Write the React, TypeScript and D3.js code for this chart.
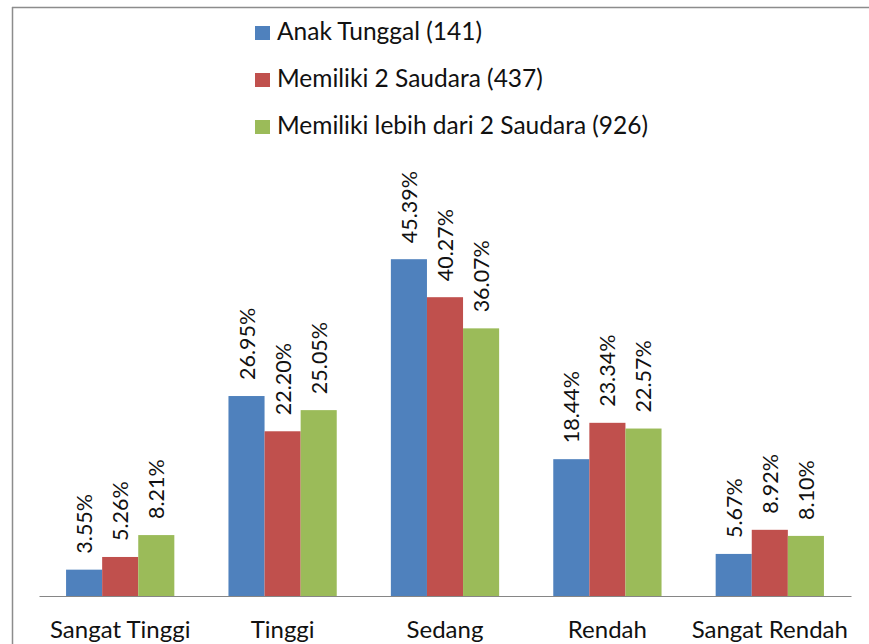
import React, { useEffect, useRef } from "react";
import * as d3 from "d3";

const categories = ["Sangat Tinggi", "Tinggi", "Sedang", "Rendah", "Sangat Rendah"];
const seriesNames = ["Anak Tunggal (141)", "Memiliki 2 Saudara (437)", "Memiliki lebih dari 2 Saudara (926)"];
const anakTunggal = [3.55, 26.95, 45.39, 18.44, 5.67];
const duaSaudara = [5.26, 22.2, 40.27, 23.34, 8.92];
const lebihDua = [8.21, 25.05, 36.07, 22.57, 8.1];
const colors = ["#4F81BD", "#C0504D", "#9BBB59"];

const FONT = "Lato, 'Open Sans', sans-serif";

const App = () => {
    const ref = useRef<SVGSVGElement | null>(null);

    useEffect(() => {
        const width = 869, height = 644;
        const svg = d3.select(ref.current)
            .attr("width", width)
            .attr("height", height);
        svg.selectAll("*").remove();

        const series = [anakTunggal, duaSaudara, lebihDua];
        const baseY = 596;

        // frame lines
        svg.append("line").attr("x1", 12).attr("x2", width).attr("y1", 7.5).attr("y2", 7.5)
            .attr("stroke", "#8c8c8c").attr("stroke-width", 1.5);
        svg.append("line").attr("x1", 12.5).attr("x2", 12.5).attr("y1", 7).attr("y2", height)
            .attr("stroke", "#8c8c8c").attr("stroke-width", 1.5);

        const x0 = d3.scaleBand().domain(categories).range([39, 851]).paddingInner(0).paddingOuter(0);
        const x1 = d3.scaleBand().domain(["0", "1", "2"]).range([0, x0.bandwidth()]).paddingInner(0).paddingOuter(0.75);
        const y = d3.scaleLinear().domain([0, 50]).range([baseY, baseY - 371]);

        const g = svg.append("g");
        series.forEach((vals, si) => {
            g.selectAll(`rect.s${si}`)
                .data(vals)
                .enter()
                .append("rect")
                .attr("x", (d, i) => x0(categories[i])! + x1(String(si))!)
                .attr("y", d => y(d))
                .attr("width", x1.bandwidth())
                .attr("height", d => baseY - y(d))
                .attr("fill", colors[si]);

            g.selectAll(`text.l${si}`)
                .data(vals)
                .enter()
                .append("text")
                .attr("transform", (d, i) => {
                    const cx = x0(categories[i])! + x1(String(si))! + x1.bandwidth() / 2;
                    return `translate(${cx},${y(d) - 16}) rotate(-90)`;
                })
                .attr("dominant-baseline", "central")
                .attr("text-anchor", "start")
                .attr("font-family", FONT)
                .attr("font-size", 21.5)
                .attr("fill", "#111")
                .text(d => d.toFixed(2) + "%");
        });

        // baseline axis
        const axis = svg.append("g")
            .attr("transform", `translate(0,${baseY})`)
            .call(d3.axisBottom(x0).tickSize(0).tickPadding(25));
        axis.select(".domain").attr("stroke", "#868686").attr("stroke-width", 1.2);
        axis.selectAll("text")
            .attr("font-family", FONT)
            .attr("font-size", 24)
            .attr("fill", "#111");

        // legend
        const legend = svg.append("g").attr("transform", "translate(255,40)");
        seriesNames.forEach((name, i) => {
            const row = legend.append("g").attr("transform", `translate(0,${i * 47})`);
            row.append("rect").attr("x", 0).attr("y", -14).attr("width", 15).attr("height", 14).attr("fill", colors[i]);
            row.append("text")
                .attr("x", 22)
                .attr("y", 0)
                .attr("font-family", FONT)
                .attr("font-size", 24.5)
                .attr("fill", "#111")
                .text(name);
        });
    }, []);

    return <svg ref={ref} style={{ position: "absolute", left: 0, top: 0 }}></svg>;
};

export default App;
